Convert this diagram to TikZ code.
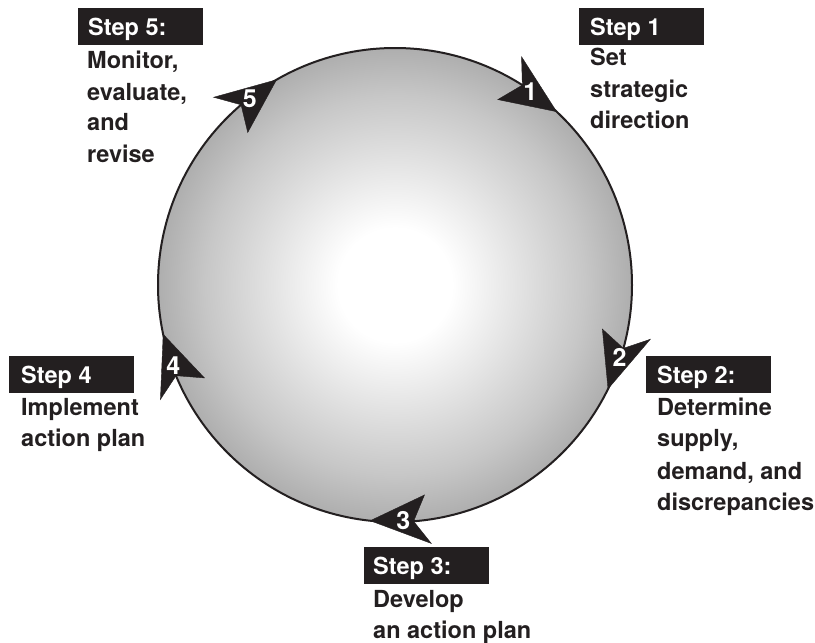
\documentclass[tikz,border=0pt]{standalone}
\usepackage{fontspec}
\setmainfont{TeX Gyre Heros}
\definecolor{ink}{HTML}{231F20}
\pgfdeclareradialshading{ballshade}{\pgfpoint{0bp}{0bp}}{color(0bp)=(white); color(6bp)=(white); color(20bp)=(black!22); color(35.4bp)=(black!52); color(100bp)=(black!52)}
\begin{document}
\begin{tikzpicture}[x=1pt,y=-1pt,
  lbl/.style={inner sep=0pt, anchor=base west, text=ink, font=\fontsize{23.5}{31}\selectfont\bfseries},
  stepbox/.style={fill=ink, minimum width=125pt, minimum height=37pt, inner sep=0pt, anchor=north west},
  steptext/.style={lbl, text=white},
  numtext/.style={inner sep=0pt, text=white, font=\fontsize{25}{25}\selectfont\bfseries},
  arrowshape/.style={fill=ink, draw=ink, line width=0.4pt, line join=miter}]
\useasboundingbox[fill=white] (0,0) rectangle (815,643);
% circle
\node[circle, minimum size=474pt, inner sep=0pt, draw=ink, line width=2pt, shading=ballshade] (wheel) at (395,285) {};
% arrowheads on the circle (clockwise)
\foreach \a/\n in {47/1, -26/2, -96/3, -168/4, 120/5}{
  \coordinate (tip\n) at ({395+237*cos(\a)},{285-237*sin(\a)});
  \coordinate (bo\n) at ({395+261*cos(\a+14)},{285-261*sin(\a+14)});
  \coordinate (no\n) at ({395+237*cos(\a+10.5)},{285-237*sin(\a+10.5)});
  \coordinate (bi\n) at ({395+212*cos(\a+14)},{285-212*sin(\a+14)});
  \fill[arrowshape] (tip\n) -- (bo\n) -- (no\n) -- (bi\n) -- cycle;
  \node[numtext] (num\n) at ({395+236*cos(\a+8)},{285-236*sin(\a+8)}) {\n};
}
% Step 1
\node[stepbox] (box1) at (579,8) {};
\node[steptext] (h1) at (590,35) {Step 1};
\node[lbl] (t1a) at (590,65) {Set};
\node[lbl] (t1b) at (590,97) {strategic};
\node[lbl] (t1c) at (590,128) {direction};
% Step 2
\node[stepbox] (box2) at (646,356) {};
\node[steptext] (h2) at (657,383) {Step 2:};
\node[lbl] (t2a) at (657,415) {Determine};
\node[lbl] (t2b) at (657,446) {supply,};
\node[lbl] (t2c) at (657,479) {demand, and};
\node[lbl] (t2d) at (657,510) {discrepancies};
% Step 3
\node[stepbox] (box3) at (364,547) {};
\node[steptext] (h3) at (373,574) {Step 3:};
\node[lbl] (t3a) at (373,607) {Develop};
\node[lbl] (t3b) at (373,638) {an action plan};
% Step 4
\node[stepbox] (box4) at (9,356) {};
\node[steptext] (h4) at (21,383) {Step 4};
\node[lbl] (t4a) at (21,415) {Implement};
\node[lbl] (t4b) at (21,446) {action plan};
% Step 5
\node[stepbox] (box5) at (78,8) {};
\node[steptext] (h5) at (88,35) {Step 5:};
\node[lbl] (t5a) at (87,68) {Monitor,};
\node[lbl] (t5b) at (87,100) {evaluate,};
\node[lbl] (t5c) at (87,130) {and};
\node[lbl] (t5d) at (87,162) {revise};
\end{tikzpicture}
\end{document}
